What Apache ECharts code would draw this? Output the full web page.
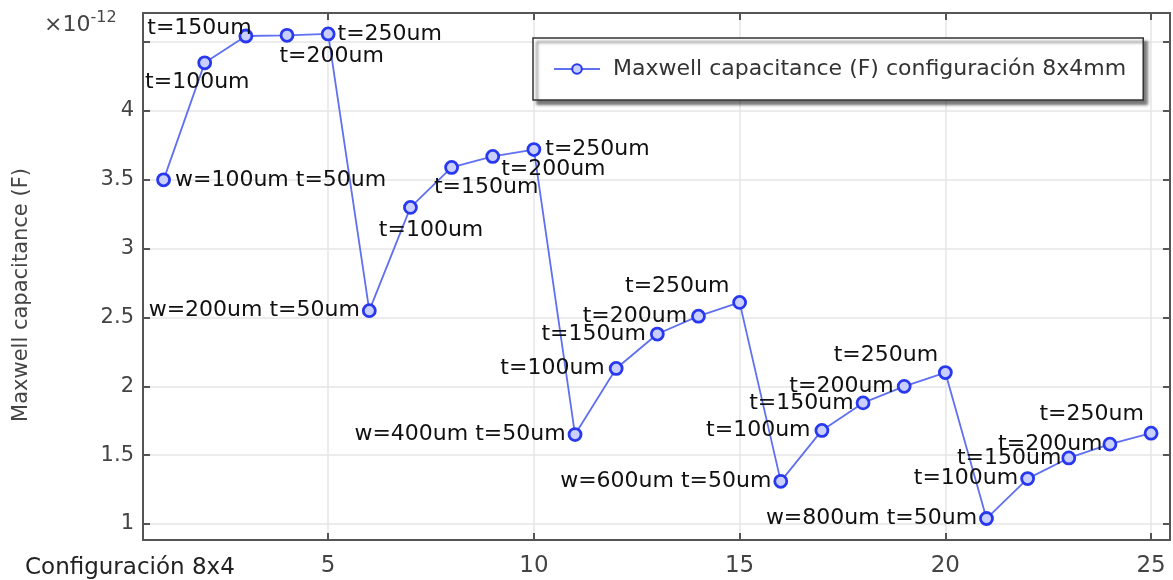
<!DOCTYPE html>
<html>
<head>
<meta charset="utf-8">
<script src="https://cdn.jsdelivr.net/npm/echarts@6/dist/echarts.min.js"></script>
<style>html,body{margin:0;padding:0;background:#fff}#c{width:1173px;height:580px}</style>
</head>
<body>
<div id="c"></div>
<script>
// ---- data ----
var configIndex = [1,2,3,4,5,6,7,8,9,10,11,12,13,14,15,16,17,18,19,20,21,22,23,24,25];
var capacitance = [3.50,4.35,4.545,4.55,4.56,2.55,3.30,3.59,3.67,3.72,1.65,2.13,2.38,2.51,2.61,1.31,1.68,1.88,2.00,2.10,1.04,1.33,1.48,1.58,1.66];
var pointLabels = [
  'w=100um t=50um','t=100um','t=150um','t=200um','t=250um',
  'w=200um t=50um','t=100um','t=150um','t=200um','t=250um',
  'w=400um t=50um','t=100um','t=150um','t=200um','t=250um',
  'w=600um t=50um','t=100um','t=150um','t=200um','t=250um',
  'w=800um t=50um','t=100um','t=150um','t=200um','t=250um'
];
var xTicks = [5,10,15,20,25];
var yTicks = [1,1.5,2,2.5,3,3.5,4,4.5];
var yTickLabels = [1,1.5,2,2.5,3,3.5,4];
var seriesName = 'Maxwell capacitance (F) configuración 8x4mm';
var xAxisTitle = 'Configuración 8x4';
var yAxisTitle = 'Maxwell capacitance (F)';

// ---- label placement (style) ----
var labelPlace = [
  {p:'right', d:4},
  {o:[-6,21]},
  {o:[-45,-6]},
  {o:[46,22]},
  {p:'right', d:2},
  {p:'left', d:2},
  {o:[22,24]},
  {o:[36,21]},
  {o:[62,14]},
  {p:'right', d:4, oy:-2},
  {p:'left', d:2},
  {p:'left', d:4},
  {p:'left', d:4, oy:-4},
  {p:'left', d:4, oy:-5},
  {o:[-61,-15]},
  {p:'left', d:2},
  {p:'left', d:4},
  {p:'left', d:2},
  {p:'left', d:3},
  {o:[-58,-16]},
  {p:'left', d:2},
  {p:'left', d:2},
  {p:'left', d:0, oy:-5},
  {p:'left', d:0, oy:-4},
  {o:[-58,-17]}
];

var FONT = 'DejaVu Sans';
var SYM = 12;
var seriesData = configIndex.map(function (x, i) {
  var lp = labelPlace[i];
  var lab = {show: true, formatter: pointLabels[i]};
  if (lp.o) {
    lab.position = [SYM / 2 + lp.o[0], SYM / 2 + lp.o[1]];
    lab.align = 'center'; lab.verticalAlign = 'middle';
  } else {
    lab.position = lp.p; lab.distance = lp.d;
    if (lp.oy) lab.offset = [0, lp.oy];
  }
  return {value: [x, capacitance[i]], label: lab};
});

var axisLineStyle = {color: '#555', width: 2};
var chart = echarts.init(document.getElementById('c'), null, {renderer: 'canvas'});
chart.setOption({
  animation: false,
  backgroundColor: '#fff',
  grid: {left: 143, right: 3, top: 13, bottom: 40},
  xAxis: [{
    type: 'value', min: 0.5, max: 25.46,
    axisLine: {show: true, lineStyle: axisLineStyle},
    axisTick: {show: true, inside: true, length: 7, customValues: xTicks, lineStyle: {color: '#555', width: 2}},
    axisLabel: {customValues: xTicks, color: '#444', fontFamily: FONT, fontSize: 23, margin: 15},
    splitLine: {show: true, lineStyle: {color: '#e6e6e6', width: 1.5}}
  }, {
    type: 'value', position: 'top', min: 0.5, max: 25.46,
    axisLine: {show: true, lineStyle: axisLineStyle},
    axisTick: {show: true, inside: true, length: 7, customValues: xTicks, lineStyle: {color: '#555', width: 2}},
    axisLabel: {show: false},
    splitLine: {show: false}
  }],
  yAxis: [{
    type: 'value', min: 0.884, max: 4.712,
    axisLine: {show: true, lineStyle: axisLineStyle},
    axisTick: {show: true, inside: true, length: 7, customValues: yTicks, lineStyle: {color: '#555', width: 2}},
    axisLabel: {customValues: yTickLabels, color: '#444', fontFamily: FONT, fontSize: 21, margin: 9},
    splitLine: {show: true, lineStyle: {color: '#e6e6e6', width: 1.5}}
  }, {
    type: 'value', position: 'right', min: 0.884, max: 4.712,
    axisLine: {show: true, lineStyle: axisLineStyle},
    axisTick: {show: true, inside: true, length: 7, customValues: yTicks, lineStyle: {color: '#555', width: 2}},
    axisLabel: {show: false},
    splitLine: {show: false}
  }],
  legend: {
    show: true, left: 533, top: 38,
    data: [seriesName],
    backgroundColor: '#fff', borderColor: '#333', borderWidth: 1.5, borderRadius: 0,
    shadowColor: 'rgba(0,0,0,0.55)', shadowBlur: 3, shadowOffsetX: 4, shadowOffsetY: 4,
    padding: [20, 17, 20, 20],
    itemWidth: 46, itemHeight: 12,
    textStyle: {color: '#333', fontFamily: FONT, fontSize: 22, padding: [0, 0, 0, 8]}
  },
  graphic: [{
    type: 'text', left: 44, top: 10,
    style: {
      text: '{a|×10}{b|-12}',
      rich: {
        a: {fontFamily: FONT, fontSize: 22, fill: '#444', verticalAlign: 'bottom'},
        b: {fontFamily: FONT, fontSize: 16, fill: '#444', verticalAlign: 'top', padding: [0, 0, 10, 0]}
      }
    }
  }, {
    type: 'text', left: 25, top: 557,
    style: {text: xAxisTitle, fontFamily: FONT, fontSize: 23, fill: '#222'}
  }, {
    type: 'text', x: 22, y: 295, rotation: Math.PI / 2,
    style: {text: yAxisTitle, fontFamily: FONT, fontSize: 21, fill: '#444', align: 'center', verticalAlign: 'middle'}
  }],
  series: [{
    name: seriesName, type: 'line',
    xAxisIndex: 0, yAxisIndex: 0,
    data: seriesData,
    symbol: 'circle', symbolSize: SYM,
    lineStyle: {color: '#5f70f0', width: 1.8},
    itemStyle: {color: '#c9d0ff', borderColor: '#2838ee', borderWidth: 2.8},
    label: {color: '#111', fontFamily: FONT, fontSize: 22},
    labelLayout: {hideOverlap: false},
    z: 3
  }]
});
</script>
</body>
</html>
